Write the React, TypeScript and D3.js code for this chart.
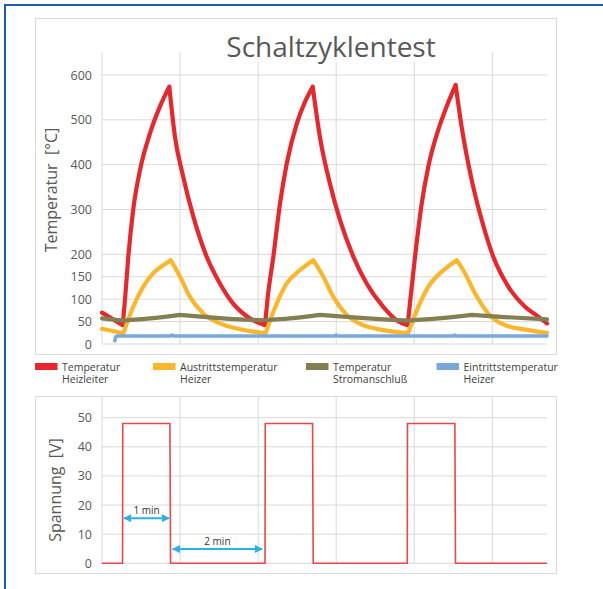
import * as d3 from 'd3';

// Zeit in Sekunden, Temperatur in °C
const heizleiter: [number, number][] = [
  [0, 70], [26.5, 42], [29.5, 100], [33.7, 195], [40, 300], [48.7, 388], [61.5, 470], [74.3, 530], [86.2, 574],
  [93.5, 462], [104, 373], [117, 284], [134, 195], [151, 135], [168, 90], [189.6, 57], [208.8, 42],
  [212, 100], [219.5, 195], [228, 313], [236.6, 402], [249.4, 491], [260, 540], [269.9, 574],
  [279.1, 462], [291.9, 358], [304.8, 277], [321.9, 195], [339, 135], [360.3, 83], [377.5, 53], [391.5, 42],
  [395, 100], [401, 195], [409.5, 313], [418, 396], [430.8, 478], [441.5, 530], [453, 578],
  [460.7, 484], [473.5, 366], [486.3, 277], [501.1, 195], [520.4, 128], [541.8, 83], [558.8, 61], [570, 46],
];

const austritt: [number, number][] = [
  [0, 34], [27.3, 24], [40, 83], [52.9, 128], [65.7, 158], [78.6, 176], [88, 187],
  [100, 150], [112.7, 105], [129.7, 68], [151, 46], [176.8, 33], [209.5, 24],
  [223.7, 90], [236.6, 135], [253.6, 165], [270.7, 187],
  [283.5, 150], [296.3, 105], [313.4, 65], [334.7, 42], [360.3, 31], [392, 24],
  [405.2, 83], [418, 128], [435, 161], [454.3, 187],
  [464.9, 158], [477.7, 113], [494.8, 68], [516.1, 42], [546, 31], [570, 25],
];

const stromanschluss: [number, number][] = [
  [0, 57], [27, 52], [61.5, 57], [100, 65], [134, 60], [176.8, 55], [208.8, 53],
  [240.9, 57], [279.1, 65], [317.6, 60], [360.3, 55], [392, 52],
  [430.8, 57], [473.5, 65], [516.1, 60], [570, 55],
];

const eintritt: [number, number][] = [
  [16.5, 7], [17.5, 16], [20, 18], [88, 18], [90, 20], [92, 18], [298, 18], [300, 20], [302, 18],
  [450, 18], [452, 20], [454, 18], [570, 18],
];

// Spannung in V
const spannung: [number, number][] = [
  [0, 0], [26.3, 0], [26.6, 48], [87, 48], [87.8, 0],
  [208.8, 0], [209.1, 48], [269.7, 48], [270.5, 0],
  [391, 0], [391.3, 48], [452, 48], [452.8, 0],
  [570, 0],
];

const seriesNames = [
  ['Temperatur', 'Heizleiter'],
  ['Austrittstemperatur', 'Heizer'],
  ['Temperatur', 'Stromanschluß'],
  ['Eintrittstemperatur', 'Heizer'],
];
const seriesColors = ['#e8262b', '#fbb62b', '#847f52', '#78a8dc'];
const seriesData = [heizleiter, austritt, stromanschluss, eintritt];

const tempTicks = [0, 50, 100, 150, 200, 300, 400, 500, 600];
const voltTicks = [0, 10, 20, 30, 40, 50];
const timeGrid = [0, 100, 200, 300, 400, 500];

const arrows = [
  { label: '1 min', t0: 28.2, t1: 85.8, v: 15.5 },
  { label: '2 min', t0: 90.5, t1: 205.2, v: 4.9 },
];

const FONT = "'Open Sans', sans-serif";
const GRID = '#d9d9d9';

// split a series at its turning points so peaks stay sharp
const splitAtTurns = (data: [number, number][]) => {
  const segs: [number, number][][] = [];
  let cur: [number, number][] = [data[0]];
  for (let i = 1; i < data.length; i++) {
    cur.push(data[i]);
    if (i < data.length - 1) {
      const a = data[i][1] - data[i - 1][1];
      const b = data[i + 1][1] - data[i][1];
      if (a * b < 0) {
        segs.push(cur);
        cur = [data[i]];
      }
    }
  }
  segs.push(cur);
  return segs;
};

const App = () => {
  const x = d3.scaleLinear().domain([0, 570]).range([102, 547]);
  const yT = d3.scaleLinear().domain([0, 600]).range([344, 75]);
  const yV = d3.scaleLinear().domain([0, 50]).range([563.3, 417.7]);

  const smooth = d3.line<[number, number]>().x((d) => x(d[0])).y((d) => yT(d[1])).curve(d3.curveMonotoneX);
  const straight = d3.line<[number, number]>().x((d) => x(d[0])).y((d) => yT(d[1]));
  const lineV = d3.line<[number, number]>().x((d) => x(d[0])).y((d) => yV(d[1]));

  const seriesPath = (d: [number, number][], i: number) =>
    i === 3 ? straight(d) ?? '' : splitAtTurns(d).map((s) => smooth(s)).join('');

  const legendX = [35, 153, 306, 436.5];

  return (
    <svg width={603} height={589} style={{ position: 'absolute', left: 0, top: 0 }} fontFamily={FONT}>
      <defs>
        <marker id="arr" viewBox="0 0 10 10" refX="9" refY="5" markerWidth="4" markerHeight="4" orient="auto-start-reverse">
          <path d="M0,0 L10,5 L0,10 z" fill="#27b3e6" />
        </marker>
      </defs>
      <rect x={0} y={0} width={603} height={589} fill="#fff" />
      <rect x={5} y={5} width={700} height={700} fill="none" stroke="#1d5bb9" strokeWidth={2} />

      {/* oberes Diagramm */}
      <rect x={35.5} y={18.5} width={521} height={336} fill="#fff" stroke={GRID} />
      {tempTicks.map((t) => (
        <line key={'h' + t} x1={x(0)} x2={x(570)} y1={yT(t)} y2={yT(t)} stroke={GRID} />
      ))}
      {timeGrid.map((t) => (
        <line key={'v' + t} x1={x(t)} x2={x(t)} y1={52} y2={yT(0)} stroke={GRID} />
      ))}
      <rect x={222} y={30} width={220} height={32} fill="#fff" />
      <text x={331} y={57} textAnchor="middle" fontSize={28} fill="#595959">Schaltzyklentest</text>
      {tempTicks.map((t) => (
        <text key={'l' + t} x={92} y={yT(t) + 4.5} textAnchor="end" fontSize={12.5} fill="#595959">{t}</text>
      ))}
      <text transform="translate(57,190) rotate(-90)" textAnchor="middle" fontSize={16} fill="#595959" xmlSpace="preserve">Temperatur  [°C]</text>
      {seriesData.map((d, i) => (
        <path key={'s' + i} d={seriesPath(d, i)} fill="none" stroke={seriesColors[i]} strokeWidth={i === 3 ? 3.5 : 4.2} strokeLinejoin="round" strokeLinecap="round" />
      ))}

      {/* Legende */}
      {seriesNames.map((n, i) => (
        <g key={'lg' + i}>
          <rect x={legendX[i]} y={363} width={22.5} height={7} fill={seriesColors[i]} />
          <text x={legendX[i] + 27} y={370.5} fontSize={10.5} fill="#404040">{n[0]}</text>
          <text x={legendX[i] + 27} y={383} fontSize={10.5} fill="#404040">{n[1]}</text>
        </g>
      ))}

      {/* unteres Diagramm */}
      <rect x={35.5} y={396.5} width={521} height={177} fill="#fff" stroke={GRID} />
      {voltTicks.map((t) => (
        <line key={'vh' + t} x1={x(0)} x2={x(570)} y1={yV(t)} y2={yV(t)} stroke={GRID} />
      ))}
      {timeGrid.map((t) => (
        <line key={'vv' + t} x1={x(t)} x2={x(t)} y1={397} y2={yV(0)} stroke={GRID} />
      ))}
      {voltTicks.map((t) => (
        <text key={'vl' + t} x={92} y={yV(t) + 4.5} textAnchor="end" fontSize={12.5} fill="#595959">{t}</text>
      ))}
      <text transform="translate(61,490) rotate(-90)" textAnchor="middle" fontSize={16} fill="#595959" xmlSpace="preserve">Spannung  [V]</text>
      <path d={lineV(spannung) ?? ''} fill="none" stroke="#ee4548" strokeWidth={1.6} />
      {arrows.map((a) => (
        <g key={a.label}>
          <line x1={x(a.t0)} x2={x(a.t1)} y1={yV(a.v)} y2={yV(a.v)} stroke="#27b3e6" strokeWidth={2} markerStart="url(#arr)" markerEnd="url(#arr)" />
          <text x={(x(a.t0) + x(a.t1)) / 2} y={yV(a.v) - 4} textAnchor="middle" fontSize={10} fill="#333">{a.label}</text>
        </g>
      ))}
    </svg>
  );
};

export default App;
